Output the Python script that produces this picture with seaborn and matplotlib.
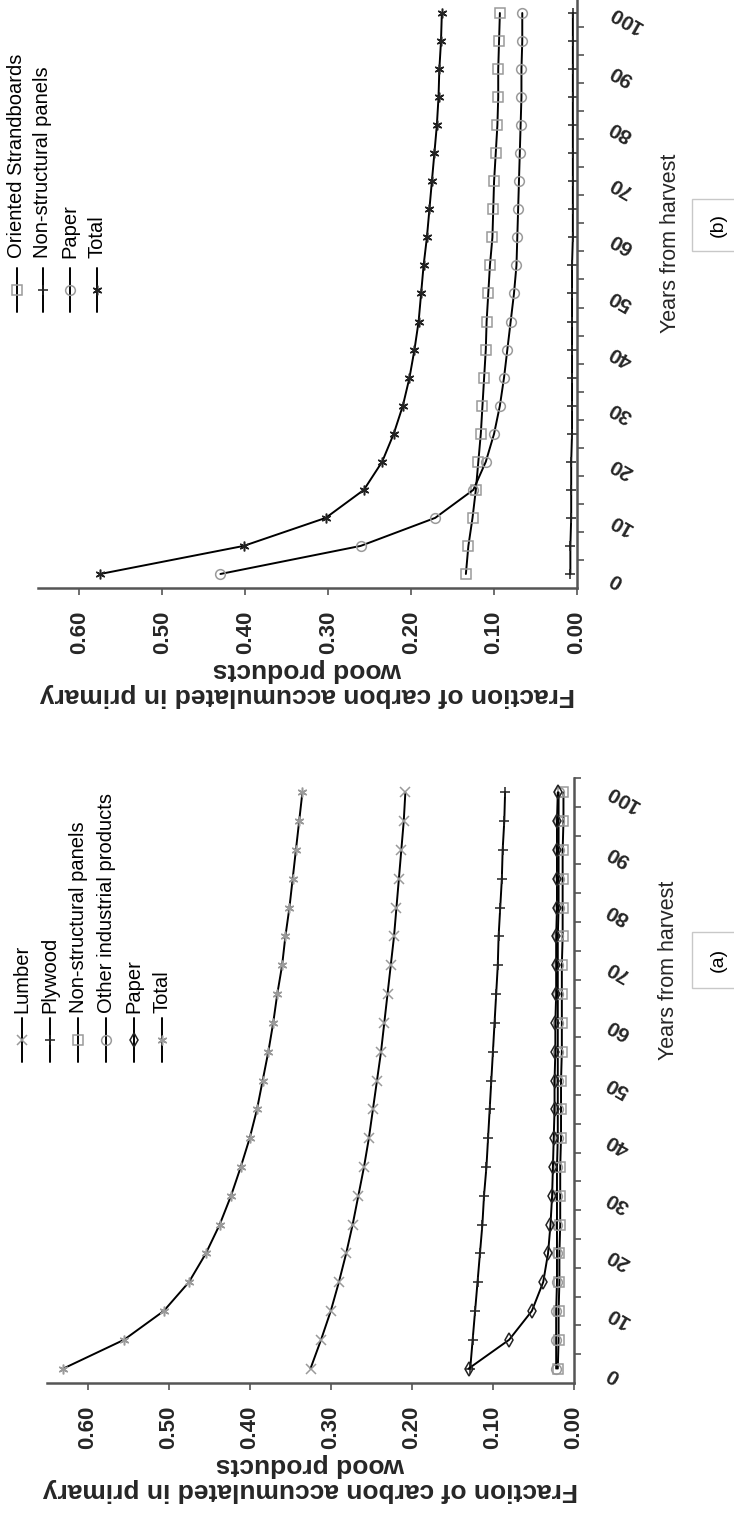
import matplotlib
matplotlib.use("Agg")
import matplotlib.pyplot as plt
from matplotlib.lines import Line2D
from matplotlib.patches import Rectangle
from matplotlib.ticker import FixedLocator
from matplotlib.transforms import ScaledTranslation
import seaborn as sns

# years from harvest (shared by both panels)
years = [0, 5, 10, 15, 20, 25, 30, 35, 40, 45, 50, 55, 60, 65, 70, 75, 80, 85, 90, 95, 100]

# panel (a)
lumber_a = [0.325, 0.312, 0.300, 0.290, 0.281, 0.273, 0.266, 0.259, 0.253, 0.248, 0.243,
            0.238, 0.234, 0.230, 0.226, 0.222, 0.219, 0.216, 0.213, 0.210, 0.208]
plywood_a = [0.128, 0.125, 0.122, 0.119, 0.116, 0.113, 0.111, 0.108, 0.106, 0.104, 0.102,
             0.100, 0.098, 0.096, 0.094, 0.093, 0.091, 0.089, 0.088, 0.086, 0.085]
nsp_a = [0.020, 0.019, 0.019, 0.018, 0.018, 0.017, 0.017, 0.017, 0.016, 0.016, 0.016,
         0.015, 0.015, 0.015, 0.015, 0.014, 0.014, 0.014, 0.014, 0.013, 0.013]
other_a = [0.022, 0.022, 0.022, 0.021, 0.021, 0.021, 0.021, 0.021, 0.020, 0.020, 0.020,
           0.020, 0.020, 0.020, 0.020, 0.020, 0.019, 0.019, 0.019, 0.019, 0.019]
paper_a = [0.130, 0.080, 0.052, 0.038, 0.032, 0.029, 0.027, 0.026, 0.025, 0.024, 0.024,
           0.023, 0.023, 0.022, 0.022, 0.022, 0.021, 0.021, 0.021, 0.021, 0.020]
total_a = [0.630, 0.555, 0.506, 0.475, 0.454, 0.437, 0.423, 0.411, 0.400, 0.391, 0.384,
           0.377, 0.371, 0.366, 0.360, 0.356, 0.351, 0.347, 0.343, 0.339, 0.335]

# panel (b)
osb_b = [0.134, 0.131, 0.126, 0.122, 0.119, 0.116, 0.114, 0.112, 0.110, 0.109, 0.107,
         0.105, 0.102, 0.101, 0.100, 0.098, 0.096, 0.095, 0.095, 0.094, 0.093]
nsp_b = [0.008, 0.008, 0.007, 0.007, 0.007, 0.006, 0.006, 0.006, 0.006, 0.006, 0.006,
         0.006, 0.005, 0.005, 0.005, 0.005, 0.005, 0.005, 0.005, 0.005, 0.005]
paper_b = [0.430, 0.261, 0.171, 0.125, 0.110, 0.100, 0.093, 0.088, 0.084, 0.080, 0.076,
           0.073, 0.072, 0.071, 0.070, 0.069, 0.068, 0.067, 0.067, 0.066, 0.066]
total_b = [0.575, 0.402, 0.303, 0.257, 0.235, 0.221, 0.210, 0.202, 0.196, 0.191, 0.188,
           0.185, 0.181, 0.178, 0.175, 0.172, 0.169, 0.167, 0.166, 0.164, 0.163]

value_ticks = [0.0, 0.1, 0.2, 0.3, 0.4, 0.5, 0.6]
year_labels = [0, 10, 20, 30, 40, 50, 60, 70, 80, 90, 100]

GRAY = "#9a9a9a"
DARK = "#222222"
ASTER = (6, 2, 0)

# (label, values, marker, marker colour)
series_a = [
    ("Lumber", lumber_a, "x", GRAY),
    ("Plywood", plywood_a, "+", DARK),
    ("Non-structural panels", nsp_a, "s", GRAY),
    ("Other industrial products", other_a, "o", GRAY),
    ("Paper", paper_a, "d", DARK),
    ("Total", total_a, ASTER, GRAY),
]
series_b = [
    ("Oriented Strandboards", osb_b, "s", GRAY),
    ("Non-structural panels", nsp_b, "+", DARK),
    ("Paper", paper_b, "o", GRAY),
    ("Total", total_b, ASTER, DARK),
]

sns.set_theme(style="white")
plt.rcParams["font.family"] = ["Liberation Sans", "DejaVu Sans"]

W, H = 734, 1522
fig = plt.figure(figsize=(W / 100, H / 100), dpi=100)


def fx(px):
    return px / W


def fy(py):
    return 1 - py / H


def draw_panel(rect, series):
    left, top, right, bottom = rect
    ax = fig.add_axes([fx(left), fy(bottom), fx(right - left), (bottom - top) / H])
    for label, vals, marker, mcol in series:
        sns.lineplot(x=vals, y=years, orient="y", sort=False, ax=ax, color="black",
                     linewidth=1.4, marker=marker, markersize=7,
                     markerfacecolor="none", markeredgecolor=mcol,
                     markeredgewidth=1.1)
    ax.set_xlim(0.65, 0)
    ax.set_ylim(-2.5, 102.5)
    for side in ("top", "left"):
        ax.spines[side].set_visible(False)
    for side in ("bottom", "right"):
        ax.spines[side].set_color("#555555")
        ax.spines[side].set_linewidth(1.8)

    ax.xaxis.set_major_locator(FixedLocator(value_ticks))
    ax.set_xticklabels([f"{v:.2f}" for v in value_ticks])
    ax.tick_params(axis="x", which="major", bottom=True, direction="out", length=5,
                   width=1.2, color="#555555", pad=11, labelrotation=90,
                   labelsize=16)
    for t in ax.get_xticklabels():
        t.set_fontweight("bold")

    ax.yaxis.tick_right()
    ax.yaxis.set_major_locator(FixedLocator(year_labels))
    ax.yaxis.set_minor_locator(FixedLocator([2.5 + 5 * k for k in range(21)]))
    ax.set_yticklabels([str(v) for v in year_labels])
    ax.tick_params(axis="y", which="major", right=True, left=False, length=0,
                   pad=21, labelrotation=150, labelsize=15)
    ax.tick_params(axis="y", which="minor", right=True, left=False, direction="out",
                   length=5, width=1.2, color="#555555")
    shift = ScaledTranslation(0, -6 / 100, fig.dpi_scale_trans)
    for t in ax.get_yticklabels():
        t.set_fontweight("bold")
        t.set_verticalalignment("center")
        t.set_transform(t.get_transform() + shift)

    ax.set_xlabel("Fraction of carbon accumulated in primary\nwood products",
                  rotation=180, fontsize=19, fontweight="bold", labelpad=3,
                  linespacing=1.05)
    ax.set_ylabel("")
    return ax


def draw_legend(series, xs, text_bottom, marker_y):
    for (label, vals, marker, mcol), x in zip(series, xs):
        fig.add_artist(Line2D([fx(x)] * 3, [fy(marker_y - 22), fy(marker_y), fy(marker_y + 22)],
                              transform=fig.transFigure, color="black", linewidth=1.4,
                              marker=marker, markevery=[1], markersize=7,
                              markerfacecolor="none", markeredgecolor=mcol,
                              markeredgewidth=1.1))
        fig.text(fx(x), fy(text_bottom), label, rotation=90, ha="center", va="bottom",
                 fontsize=14.5, color="black")


def panel_tag(text, xc, yc, y0, y1):
    fig.add_artist(Rectangle((fx(692), fy(y1)), fx(60), (y1 - y0) / H,
                             transform=fig.transFigure, facecolor="white",
                             edgecolor="#c8c8c8", linewidth=1.0))
    fig.text(fx(xc), fy(yc), text, rotation=90, ha="center", va="center",
             fontsize=14, color="black")


# panel (b) on top, panel (a) below -- whole figure drawn turned a quarter turn
draw_panel((38, -1, 577, 588), series_b)
draw_panel((47, 778, 574, 1383), series_a)

draw_legend(series_b, [17, 43, 70, 97], 258, 290)
draw_legend(series_a, [22, 50, 78, 106, 134, 162], 1013, 1040)

fig.text(fx(670), fy(243), "Years from harvest", rotation=90, ha="center",
         va="center", fontsize=15.5)
fig.text(fx(668), fy(970), "Years from harvest", rotation=90, ha="center",
         va="center", fontsize=15.5)

panel_tag("(b)", 718, 225, 199, 251)
panel_tag("(a)", 718, 960, 932, 988)

fig.savefig("out.png", dpi=100)
